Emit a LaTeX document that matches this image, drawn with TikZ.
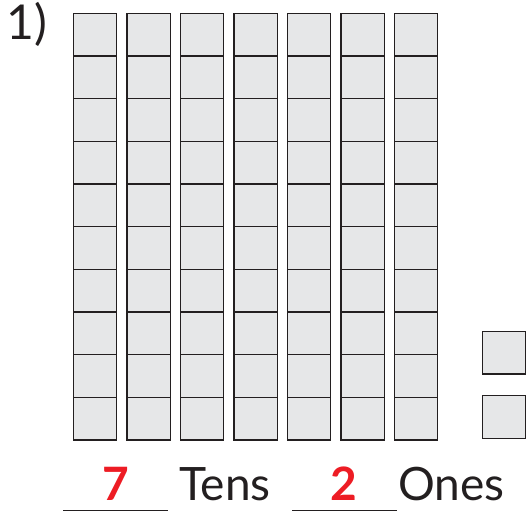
\documentclass[tikz,border=0pt]{standalone}
\usepackage{fontspec}
\setmainfont{Lato}
\definecolor{cellfill}{HTML}{E6E7E8}
\definecolor{cellline}{HTML}{231F20}
\definecolor{ansred}{HTML}{ED1C24}
\tikzset{
  cell/.style={draw=cellline, fill=cellfill, line width=1.4pt, minimum width=43.4pt, minimum height=42.67pt, inner sep=0pt, outer sep=0pt},
  onecell/.style={cell, minimum height=42.5pt},
  lbl/.style={font=\fontsize{46}{50}\selectfont, text=cellline, inner sep=0pt, anchor=base west},
  ans/.style={font=\fontsize{46}{50}\selectfont\bfseries, text=ansred, inner sep=0pt, anchor=base},
  blank/.style={draw=cellline, line width=1pt}
}
\begin{document}
\begin{tikzpicture}[x=1pt,y=-1pt]
\useasboundingbox (0,0) rectangle (526,511);
\node[lbl, font=\fontsize{48}{52}\selectfont] (num) at (6,39) {1)};
\foreach \i in {0,...,6}{
  \foreach \j in {0,...,9}{
    \node[cell] (c-\i-\j) at ({95+53.5*\i},{34.6+42.67*\j}) {};
  }
}
\node[onecell] (one1) at (504,352.9) {};
\node[onecell] (one2) at (504,417) {};
\node[ans] (tensval) at (115.5,500) {7};
\node[lbl] (tens) at (179,500) {Tens};
\node[ans] (onesval) at (344,500) {2};
\node[lbl] (ones) at (398,500) {Ones};
\coordinate (b1a) at (63,510);
\coordinate (b1b) at (168,510);
\coordinate (b2a) at (292,510);
\coordinate (b2b) at (397,510);
\draw[blank] (b1a) -- (b1b);
\draw[blank] (b2a) -- (b2b);
\end{tikzpicture}
\end{document}
